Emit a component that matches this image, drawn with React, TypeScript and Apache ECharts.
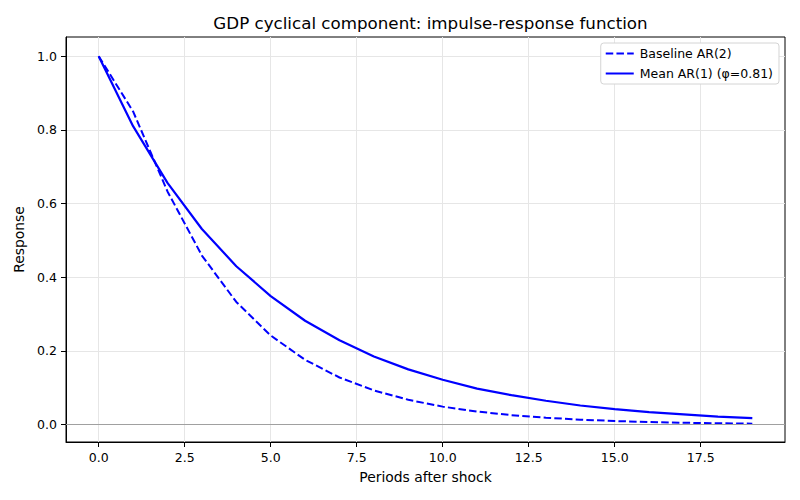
import React, { useEffect, useRef } from "react";
import * as echarts from "echarts";

// Periods after the shock
const periods: number[] = [0, 1, 2, 3, 4, 5, 6, 7, 8, 9, 10, 11, 12, 13, 14, 15, 16, 17, 18, 19];

// Baseline AR(2) impulse response
const baselineAR2: number[] = [
  1.0, 0.85, 0.633, 0.459, 0.333, 0.242, 0.176, 0.128, 0.093, 0.0675,
  0.049, 0.0356, 0.0259, 0.0188, 0.0137, 0.0099, 0.0072, 0.0052, 0.0038, 0.0028,
];

// Mean AR(1) impulse response (phi = 0.81)
const meanAR1: number[] = [
  1.0, 0.81, 0.656, 0.531, 0.43, 0.349, 0.282, 0.229, 0.185, 0.15,
  0.122, 0.098, 0.08, 0.065, 0.052, 0.042, 0.034, 0.028, 0.022, 0.018,
];

const xTicks: number[] = [0, 2.5, 5, 7.5, 10, 12.5, 15, 17.5];
const yTicks: number[] = [0, 0.2, 0.4, 0.6, 0.8, 1.0];

const FONT = "DejaVu Sans";

export default function App() {
  const ref = useRef<HTMLDivElement>(null);

  useEffect(() => {
    if (!ref.current) return;
    const chart = echarts.init(ref.current, null, { renderer: "svg" });

    const toPairs = (ys: number[]) => periods.map((p, i) => [p, ys[i]]);

    chart.setOption({
      animation: false,
      backgroundColor: "#ffffff",
      textStyle: { fontFamily: FONT },
      title: {
        text: "GDP cyclical component: impulse-response function",
        left: 425.5,
        textAlign: "center",
        top: 9,
        textStyle: { fontFamily: FONT, fontSize: 16.7, fontWeight: "normal", color: "#000" },
      },
      grid: {
        left: 66,
        right: 15,
        top: 37,
        bottom: 58,
        containLabel: false,
        show: true,
        borderColor: "#000",
        borderWidth: 1,
      },
      legend: {
        orient: "vertical",
        right: 21,
        top: 43,
        padding: [4, 6, 4, 4],
        itemGap: 7,
        itemWidth: 28,
        itemHeight: 12,
        backgroundColor: "#ffffff",
        borderColor: "#d4d4d4",
        borderWidth: 1,
        borderRadius: 3,
        itemStyle: { opacity: 0 },
        textStyle: { fontFamily: FONT, fontSize: 12.5, color: "#000", padding: [0, 0, 0, 1] },
        data: ["Baseline AR(2)", "Mean AR(1) (φ=0.81)"],
      },
      xAxis: {
        type: "value",
        min: -0.95,
        max: 19.95,
        name: "Periods after shock",
        nameLocation: "middle",
        nameGap: 28,
        nameTextStyle: { fontFamily: FONT, fontSize: 13.9, color: "#000" },
        axisLine: { onZero: false, lineStyle: { color: "#000", width: 1 } },
        axisTick: { show: true, length: 5, customValues: xTicks, lineStyle: { color: "#000" } },
        axisLabel: {
          customValues: xTicks,
          margin: 9,
          fontFamily: FONT,
          fontSize: 12.5,
          color: "#000",
          formatter: (v: number) => v.toFixed(1),
        },
        splitLine: { show: true, lineStyle: { color: "#e6e6e6", width: 1 } },
      },
      yAxis: {
        type: "value",
        min: -0.047,
        max: 1.052,
        name: "Response",
        nameLocation: "middle",
        nameGap: 37,
        nameTextStyle: { fontFamily: FONT, fontSize: 13.9, color: "#000" },
        axisLine: { show: true, onZero: false, lineStyle: { color: "#000", width: 1 } },
        axisTick: { show: true, length: 5, customValues: yTicks, lineStyle: { color: "#000" } },
        axisLabel: {
          customValues: yTicks,
          margin: 9,
          fontFamily: FONT,
          fontSize: 12.5,
          color: "#000",
          formatter: (v: number) => v.toFixed(1),
        },
        splitLine: { show: true, lineStyle: { color: "#e6e6e6", width: 1 } },
      },
      series: [
        {
          name: "Baseline AR(2)",
          type: "line",
          data: toPairs(baselineAR2),
          symbol: "none",
          color: "#0000ff",
          lineStyle: { color: "#0000ff", width: 2, type: [7.5, 3.2] },
          z: 3,
          markLine: {
            silent: true,
            symbol: "none",
            label: { show: false },
            lineStyle: { color: "#a0a0a0", width: 1, type: "solid" },
            data: [{ yAxis: 0 }],
          },
        },
        {
          name: "Mean AR(1) (φ=0.81)",
          type: "line",
          data: toPairs(meanAR1),
          symbol: "none",
          color: "#0000ff",
          lineStyle: { color: "#0000ff", width: 2.2, type: "solid" },
          z: 4,
        },
      ],
    });

    return () => chart.dispose();
  }, []);

  return <div ref={ref} style={{ width: 800, height: 500, margin: -8 }} />;
}
